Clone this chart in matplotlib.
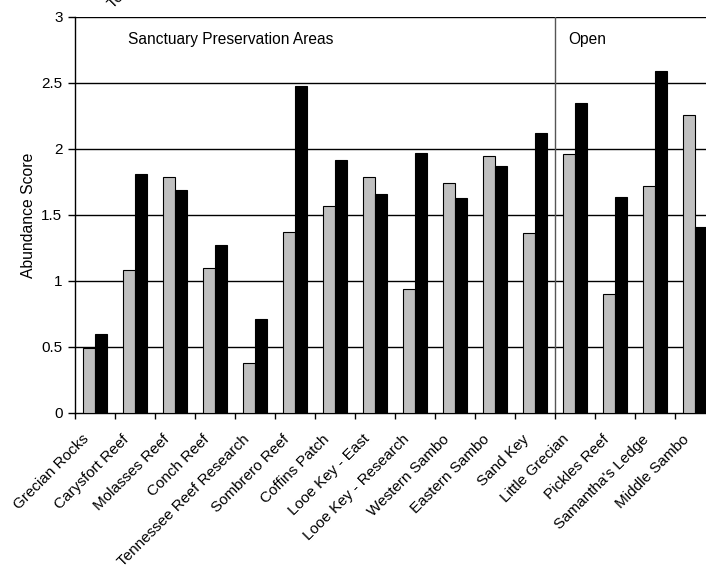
import numpy as np
import matplotlib
matplotlib.use('Agg')
import matplotlib.pyplot as plt

plt.rcParams['font.family'] = ['Liberation Sans', 'DejaVu Sans']

# ======================
#  Data
# ======================
sites = ['Grecian Rocks', 'Carysfort Reef', 'Molasses Reef', 'Conch Reef',
         'Tennessee Reef Research', 'Sombrero Reef', 'Coffins Patch',
         'Looe Key - East', 'Looe Key - Research', 'Western Sambo',
         'Eastern Sambo', 'Sand Key', 'Little Grecian', 'Pickles Reef',
         "Samantha's Ledge", 'Middle Sambo']
gray_vals = [0.49, 1.08, 1.79, 1.10, 0.38, 1.37, 1.57, 1.79, 0.94, 1.74,
             1.95, 1.36, 1.96, 0.90, 1.72, 2.26]
black_vals = [0.60, 1.81, 1.69, 1.27, 0.71, 2.48, 1.92, 1.66, 1.97, 1.63,
              1.87, 2.12, 2.35, 1.64, 2.59, 1.41]
y_ticks = [0, 0.5, 1, 1.5, 2, 2.5, 3]
n_sanctuary = 12

# ======================
#  Figure
# ======================
W, H = 706, 569
fig = plt.figure(figsize=(W / 100, H / 100), dpi=100)
ax = fig.add_axes([75 / W, 1 - 413 / H, 640 / W, 396 / H])

x = np.arange(len(sites))
bw = 0.29
ax.bar(x - bw / 2, gray_vals, bw, color='#c0c0c0', edgecolor='black',
       linewidth=0.8, zorder=3)
ax.bar(x + bw / 2, black_vals, bw, color='black', edgecolor='black',
       linewidth=0.8, zorder=3)

for yv in y_ticks[1:]:
    ax.axhline(yv, color='black', linewidth=1, zorder=1)

ax.axvline(n_sanctuary - 0.5, color='#555555', linewidth=1, zorder=2)

ax.set_xlim(-0.5, len(sites) - 0.5)
ax.set_ylim(0, 3)
ax.set_yticks(y_ticks)
ax.set_yticklabels(['0', '0.5', '1', '1.5', '2', '2.5', '3'], fontsize=11)
ax.set_xticks(np.arange(len(sites) + 1) - 0.5)
ax.set_xticklabels([])
ax.tick_params(axis='both', direction='out', length=4, width=1)
ax.tick_params(axis='y', length=5, pad=4)

for i, name in enumerate(sites):
    ax.text(i - 0.32, -0.145, name, rotation=45, ha='right', va='top',
            rotation_mode='anchor', fontsize=11)

for side in ['top', 'right']:
    ax.spines[side].set_visible(False)
ax.spines['left'].set_linewidth(1)
ax.spines['bottom'].set_linewidth(1)

ax.set_ylabel('Abundance Score', fontsize=11.3, labelpad=4)

ax.text(0.825, 2.83, 'Sanctuary Preservation Areas', fontsize=11.2,
        va='center', ha='left')
ax.text(11.825, 2.83, 'Open', fontsize=11.2, va='center', ha='left')

# clipped fragment of a label sitting above the chart
fig.text(115 / W, 1 - 11 / H, 'Tennessee Reef Research', rotation=45,
         ha='left', va='bottom', rotation_mode='anchor', fontsize=11)

fig.savefig('out.png', dpi=100)
